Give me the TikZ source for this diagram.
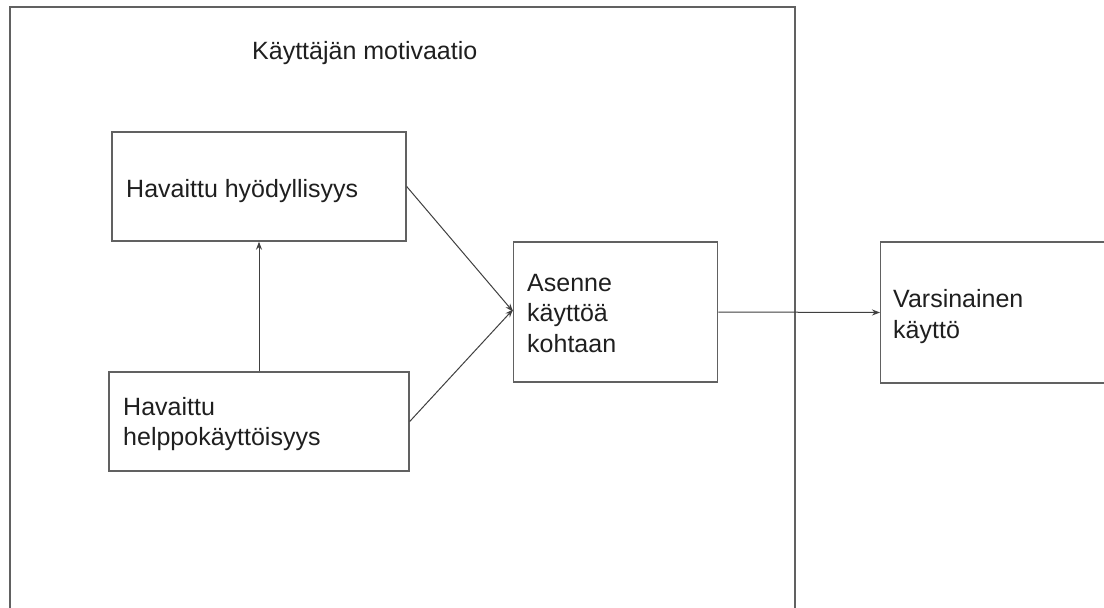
\documentclass[tikz,border=0pt]{standalone}
\usepackage{fontspec}
\setmainfont{Liberation Sans}
\usetikzlibrary{arrows.meta}
\begin{document}
\begin{tikzpicture}[x=1pt,y=-1pt,
  box/.style={draw=black!62,line width=1.4pt,inner sep=0pt,rectangle},
  lbl/.style={inner sep=0pt,anchor=base west,align=left,
    font=\fontsize{25}{30.5}\selectfont,text=black!88},
  link/.style={draw=black!75,line width=1pt,
    -{Stealth[length=8pt,width=6pt]}}]
\useasboundingbox (0,0) rectangle (1104,608);
\clip (0,0) rectangle (1104,608);
\fill[white] (0,0) rectangle (1104,608);

% outer frame (runs past the lower edge)
\node[box,minimum width=785pt,minimum height=680pt] (motiv) at (402.5,347) {};
\node[lbl] (motivtxt) at (252,59) {Käyttäjän motivaatio};

% constructs (multi-line labels are placed by their last baseline)
\node[box,minimum width=294pt,minimum height=109pt] (hyod) at (259,186.5) {};
\node[lbl] (hyodtxt) at (126,197) {Havaittu hyödyllisyys};

\node[box,minimum width=300pt,minimum height=99pt] (helppo) at (259,421.5) {};
\node[lbl] (helppotxt) at (123,445.5) {Havaittu\\helppokäyttöisyys};

\node[box,minimum width=204pt,minimum height=140pt,anchor=west] (asenne) at (513,312) {};
\node[lbl] (asennetxt) at (527,352) {Asenne\\käyttöä\\kohtaan};

\node[box,minimum width=240pt,minimum height=141pt,anchor=west] (kaytto) at (880,312.5) {};
\node[lbl] (kayttotxt) at (893,338) {Varsinainen\\käyttö};

% relations
\draw[link] (helppo.north) -- (hyod.south);
\draw[link] (hyod.east) -- ([yshift=0.5pt]asenne.west);
\draw[link] (helppo.east) -- ([yshift=2.5pt]asenne.west);
\draw[link] (asenne.east) -- (kaytto.west);
\end{tikzpicture}
\end{document}
